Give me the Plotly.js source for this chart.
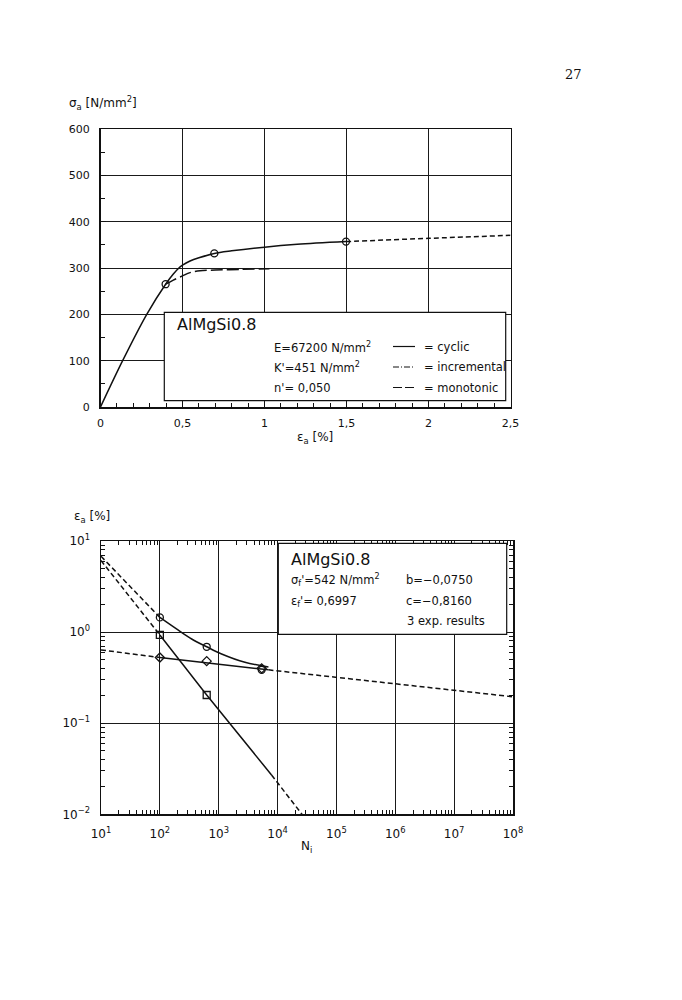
<!DOCTYPE html>
<html>
<head>
<meta charset="utf-8">
<script src="https://cdn.plot.ly/plotly-3.0.1.min.js"></script>
<style>html,body{margin:0;padding:0;background:#fff;}#chart{width:682px;height:1000px;}</style>
</head>
<body>
<div id="chart"></div>
<script>
// ---------- top chart data (stress-strain) ----------
const cyclicStrain = [0, 0.135, 0.282, 0.397, 0.444, 0.475, 0.5, 0.546, 0.6, 0.694, 0.8, 1.0, 1.2, 1.497];
const cyclicStress = [0, 100, 200, 265, 287, 299, 306, 315, 322, 331.5, 337, 345, 351, 357];
const extStrain = [1.497, 2.0, 2.5];
const extStress = [357, 364, 370.5];
const monoStrain = [0.397, 0.444, 0.5, 0.546, 0.607, 0.7, 0.85, 1.03];
const monoStress = [265, 274, 283, 290, 294, 295.5, 297, 298.5];
const cycMarkStrain = [0.397, 0.694, 1.497];
const cycMarkStress = [265, 331.5, 357];
const xTickVals1 = [0, 0.5, 1, 1.5, 2, 2.5];
const xTickText1 = ['0', '0,5', '1', '1,5', '2', '2,5'];
const yTickVals1 = [0, 100, 200, 300, 400, 500, 600];
const yTickText1 = ['0', '100', '200', '300', '400', '500', '600'];

// ---------- bottom chart data (strain-life) ----------
const totalDashN = [10, 100];
const totalDashE = [6.8, 1.45];
const totalSolidN = [100, 206, 347, 625, 1120, 2790, 7000];
const totalSolidE = [1.45, 1.05, 0.84, 0.69, 0.575, 0.466, 0.415];
const plastDash1N = [10, 100];
const plastDash1E = [6.1, 0.93];
const plastSolidN = [100, 625, 7900];
const plastSolidE = [0.93, 0.204, 0.027];
const plastDash2N = [7900, 26000];
const plastDash2E = [0.027, 0.0100];
const elasDash1N = [10, 100];
const elasDash1E = [0.637, 0.526];
const elasSolidN = [100, 7000];
const elasSolidE = [0.526, 0.385];
const elasDash2N = [7000, 1e8];
const elasDash2E = [0.385, 0.195];
const circN = [100, 625, 5370];
const circE = [1.45, 0.69, 0.385];
const diamN = [100, 625, 5370];
const diamE = [0.526, 0.48, 0.40];
const sqN = [100, 625];
const sqE = [0.93, 0.204];
const xTickVals2 = [1e1, 1e2, 1e3, 1e4, 1e5, 1e6, 1e7, 1e8];
const xTickText2 = ['10<sup>1</sup>', '10<sup>2</sup>', '10<sup>3</sup>', '10<sup>4</sup>', '10<sup>5</sup>', '10<sup>6</sup>', '10<sup>7</sup>', '10<sup>8</sup>'];
const yTickVals2 = [0.01, 0.1, 1, 10];
const yTickText2 = ['10<sup>\u22122</sup>', '10<sup>\u22121</sup>', '10<sup>0</sup>', '10<sup>1</sup>'];

// ---------- layout helpers ----------
const W = 682, H = 1000;
const px = x => x / W;
const py = y => 1 - y / H;
const INK = '#111';
const FONT = 'DejaVu Sans, Liberation Sans, sans-serif';
const shortDash = '5px,3px';

function line(x, y, dash, xa, ya, shape) {
  return {x: x, y: y, xaxis: xa, yaxis: ya, mode: 'lines', type: 'scatter', hoverinfo: 'skip',
    line: {color: INK, width: 1.5, dash: dash || 'solid', shape: shape || 'linear', smoothing: 0.9}};
}
function marks(x, y, sym, xa, ya) {
  return {x: x, y: y, xaxis: xa, yaxis: ya, mode: 'markers', type: 'scatter', hoverinfo: 'skip',
    marker: {symbol: sym, size: 7, color: INK, line: {color: INK, width: 1.3}}};
}

const traces = [
  line(cyclicStrain, cyclicStress, 'solid', 'x', 'y', 'spline'),
  line(extStrain, extStress, shortDash, 'x', 'y', 'spline'),
  line(monoStrain, monoStress, '12px,4px', 'x', 'y', 'spline'),
  marks(cycMarkStrain, cycMarkStress, 'circle-open', 'x', 'y'),

  line(totalDashN, totalDashE, shortDash, 'x2', 'y2'),
  line(totalSolidN, totalSolidE, 'solid', 'x2', 'y2', 'spline'),
  line(plastDash1N, plastDash1E, shortDash, 'x2', 'y2'),
  line(plastSolidN, plastSolidE, 'solid', 'x2', 'y2'),
  line(plastDash2N, plastDash2E, shortDash, 'x2', 'y2'),
  line(elasDash1N, elasDash1E, shortDash, 'x2', 'y2'),
  line(elasSolidN, elasSolidE, 'solid', 'x2', 'y2'),
  line(elasDash2N, elasDash2E, shortDash, 'x2', 'y2'),
  marks(circN, circE, 'circle-open', 'x2', 'y2'),
  marks(diamN, diamE, 'diamond-open', 'x2', 'y2'),
  marks(sqN, sqE, 'square-open', 'x2', 'y2')
];

const tickFont = {family: FONT, size: 11, color: INK};
const axBase = {
  showline: true, linecolor: INK, linewidth: 1.5, mirror: true,
  showgrid: true, gridcolor: '#1a1a1a', gridwidth: 1, zeroline: false,
  ticks: 'inside', ticklen: 5, tickcolor: INK, tickwidth: 1,
  tickfont: tickFont, fixedrange: true
};

const layout = {
  width: W, height: H, margin: {l: 0, r: 0, t: 0, b: 0},
  paper_bgcolor: '#fff', plot_bgcolor: '#fff', showlegend: false,
  xaxis: Object.assign({}, axBase, {
    domain: [px(100.5), px(510.5)], range: [0, 2.5], anchor: 'y',
    tickmode: 'array', tickvals: xTickVals1, ticktext: xTickText1, ticklabelstandoff: 5,
    minor: {dtick: 0.1, ticks: 'inside', ticklen: 4, tickcolor: INK, showgrid: false}
  }),
  yaxis: Object.assign({}, axBase, {
    domain: [py(407), py(129)], range: [0, 600], anchor: 'x',
    tickmode: 'array', tickvals: yTickVals1, ticktext: yTickText1, ticklabelstandoff: 7,
    minor: {dtick: 50, ticks: 'inside', ticklen: 4, tickcolor: INK, showgrid: false}
  }),
  xaxis2: Object.assign({}, axBase, {
    type: 'log', domain: [px(101), px(513)], range: [1, 8], anchor: 'y2', mirror: 'allticks',
    tickmode: 'array', tickvals: xTickVals2, ticktext: xTickText2, ticklabelstandoff: 8, ticklen: 0,
    tickfont: {family: FONT, size: 12, color: INK},
    minor: {dtick: 'D1', ticks: 'inside', ticklen: 4, tickcolor: INK, showgrid: false}
  }),
  yaxis2: Object.assign({}, axBase, {
    type: 'log', domain: [py(814.3), py(541)], range: [-2, 1], anchor: 'x2', mirror: 'allticks',
    tickmode: 'array', tickvals: yTickVals2, ticktext: yTickText2, ticklabelstandoff: 7, ticklen: 0,
    tickfont: {family: FONT, size: 12, color: INK},
    minor: {dtick: 'D1', ticks: 'inside', ticklen: 4, tickcolor: INK, showgrid: false}
  }),
  shapes: [
    // top legend box
    {type: 'rect', xref: 'paper', yref: 'paper', x0: px(164.3), x1: px(505.7), y0: py(400.7), y1: py(312.3),
      line: {color: INK, width: 1.2}, fillcolor: '#fff', layer: 'above'},
    {type: 'line', xref: 'paper', yref: 'paper', x0: px(393), x1: px(415), y0: py(346.5), y1: py(346.5),
      line: {color: INK, width: 1.2}},
    {type: 'line', xref: 'paper', yref: 'paper', x0: px(393), x1: px(415), y0: py(367), y1: py(367),
      line: {color: INK, width: 1.2, dash: '6px,2px,1px,2px'}},
    {type: 'line', xref: 'paper', yref: 'paper', x0: px(393), x1: px(415), y0: py(387.5), y1: py(387.5),
      line: {color: INK, width: 1.2, dash: '9px,3px'}},
    // bottom legend box
    {type: 'rect', xref: 'paper', yref: 'paper', x0: px(278.3), x1: px(506.7), y0: py(634.3), y1: py(543.3),
      line: {color: INK, width: 1.2}, fillcolor: '#fff', layer: 'above'}
  ],
  annotations: []
};

function txt(x, y, text, size, anchor, fam) {
  layout.annotations.push({xref: 'paper', yref: 'paper', x: px(x), y: py(y), text: text, showarrow: false,
    xanchor: anchor || 'left', yanchor: 'middle', font: {family: fam || FONT, size: size || 12, color: INK}});
}
txt(573, 75, '27', 13, 'center', 'DejaVu Serif, Liberation Serif, serif');
txt(67, 103, '\u03c3<sub>a</sub> [N/mm<sup>2</sup>]', 12);
txt(315, 438, '\u03b5<sub>a</sub> [%]', 12, 'center');
txt(175, 325, 'AlMgSi0.8', 16);
txt(272, 347, 'E=67200 N/mm<sup>2</sup>', 11.5);
txt(272, 367, 'K\'=451 N/mm<sup>2</sup>', 11.5);
txt(272, 388, 'n\'= 0,050', 11.5);
txt(422, 347, '= cyclic', 11.5);
txt(422, 367, '= incremental', 11.5);
txt(422, 388, '= monotonic', 11.5);

txt(72, 517, '\u03b5<sub>a</sub> [%]', 12);
txt(306, 847, 'N<sub>i</sub>', 12, 'center');
txt(289, 559, 'AlMgSi0.8', 16);
txt(289, 580, '\u03c3<sub>f</sub>\'=542 N/mm<sup>2</sup>', 11.5);
txt(404, 580, 'b=\u22120,0750', 11.5);
txt(289, 601, '\u03b5<sub>f</sub>\'= 0,6997', 11.5);
txt(404, 601, 'c=\u22120,8160', 11.5);
txt(405, 621, '3 exp. results', 11.5);

Plotly.newPlot('chart', traces, layout, {staticPlot: true, displayModeBar: false});
</script>
</body>
</html>
